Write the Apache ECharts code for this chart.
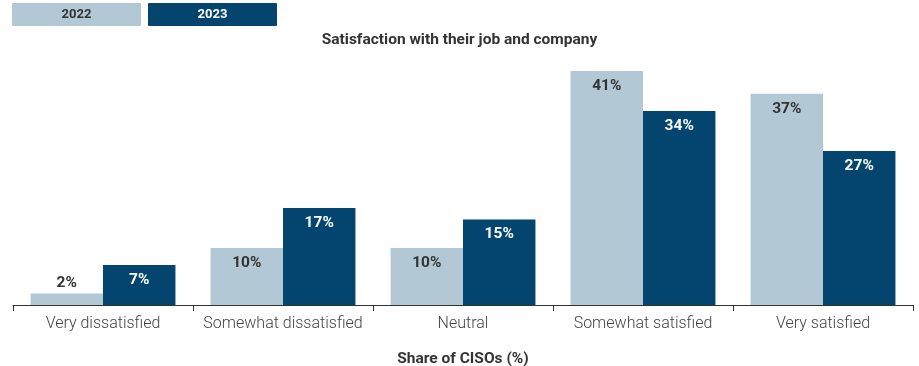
<!DOCTYPE html>
<html>
<head>
<meta charset="utf-8">
<style>
  html, body { margin: 0; padding: 0; background: #fff; }
  #chart { width: 919px; height: 366px; }
</style>
<script src="https://cdn.jsdelivr.net/npm/echarts@6/dist/echarts.min.js"></script>
</head>
<body>
<div id="chart"></div>
<script>
// Satisfaction of CISOs with their job and company, by year
const categories = ['Very dissatisfied', 'Somewhat dissatisfied', 'Neutral', 'Somewhat satisfied', 'Very satisfied'];
const years = ['2022', '2023'];
const values2022 = [2, 10, 10, 41, 37];
const values2023 = [7, 17, 15, 34, 27];

const colors = ['#b3c8d5', '#044570'];
const labelColors = ['#333333', '#ffffff'];
const FONT = 'Roboto, "Noto Sans", sans-serif';

// Short bars get their label placed above the bar
function toData(values) {
  return values.map(v => v < 5
    ? { value: v, label: { position: 'top', distance: 2, color: '#333333' } }
    : v);
}

function makeSeries(name, values, idx) {
  return {
    name: name,
    type: 'bar',
    data: toData(values),
    barGap: '0%',
    barCategoryGap: '19.5%',
    itemStyle: { color: colors[idx] },
    label: {
      show: true,
      position: 'insideTop',
      distance: 7,
      formatter: '{c}%',
      color: labelColors[idx],
      fontFamily: FONT,
      fontWeight: 'bold',
      fontSize: 15.5
    },
    emphasis: { disabled: true }
  };
}

// Legend boxes drawn as filled tiles with the year inside
const legendGraphics = [];
years.forEach((y, i) => {
  legendGraphics.push({
    type: 'group',
    left: 12 + i * 136,
    top: 3,
    children: [
      { type: 'rect', shape: { x: 0, y: 0, width: 129, height: 23, r: 1 }, style: { fill: colors[i] } },
      { type: 'text', x: 64.5, y: 11.5, style: {
          text: y, fill: labelColors[i], font: 'bold 13px ' + FONT,
          textAlign: 'center', textVerticalAlign: 'middle' } }
    ]
  });
});

const chart = echarts.init(document.getElementById('chart'), null, { renderer: 'canvas' });
chart.setOption({
  animation: false,
  textStyle: { fontFamily: FONT },
  title: {
    text: 'Satisfaction with their job and company',
    left: 'center',
    top: 27,
    textStyle: { fontFamily: FONT, fontSize: 15.5, fontWeight: 'bold', color: '#333333' }
  },
  graphic: legendGraphics,
  grid: { left: 13, right: 6, top: 71, bottom: 61, containLabel: false, outerBoundsMode: 'none' },
  xAxis: {
    type: 'category',
    data: categories,
    name: 'Share of CISOs (%)',
    nameLocation: 'middle',
    nameGap: 46,
    nameTextStyle: { fontFamily: FONT, fontSize: 15.5, fontWeight: 'bold', color: '#333333' },
    axisLine: { lineStyle: { color: '#333333', width: 1 } },
    axisTick: { show: true, length: 6, alignWithLabel: false, lineStyle: { color: '#333333' } },
    axisLabel: { interval: 0, fontFamily: FONT, fontSize: 16, fontWeight: 300, color: '#444444', margin: 11 }
  },
  yAxis: {
    type: 'value',
    min: 0,
    max: 41,
    show: false,
    splitLine: { show: false }
  },
  series: [
    makeSeries(years[0], values2022, 0),
    makeSeries(years[1], values2023, 1)
  ]
});
</script>
</body>
</html>
